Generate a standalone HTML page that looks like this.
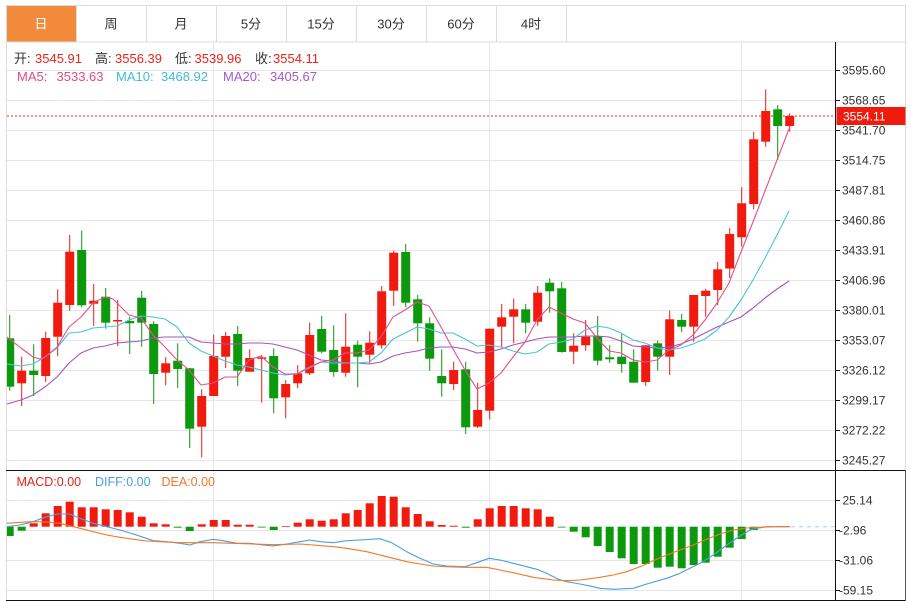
<!DOCTYPE html>
<html><head><meta charset="utf-8">
<style>
html,body{margin:0;padding:0;background:#fff;}
body{width:911px;height:601px;overflow:hidden;}
svg{display:block;font-family:"Liberation Sans","Noto Sans CJK SC",sans-serif;}
.r{fill:#f11a0e;}
.g{fill:#0d990d;}
</style></head><body>
<svg width="911" height="601" viewBox="0 0 911 601" xmlns="http://www.w3.org/2000/svg">
<rect x="0" y="0" width="911" height="601" fill="#fff"/>
<!-- tab bar -->
<rect x="6" y="5" width="70.5" height="37" fill="#f28a3b"/>
<g stroke="#dcdcdc" stroke-width="1">
<line x1="6" y1="5.5" x2="905.5" y2="5.5"/>
<line x1="6" y1="42" x2="905.5" y2="42"/>
<line x1="6.5" y1="5" x2="6.5" y2="600"/>
<line x1="905.5" y1="5" x2="905.5" y2="600"/>
<line x1="76.5" y1="5" x2="76.5" y2="42"/>
<line x1="146.5" y1="5" x2="146.5" y2="42"/>
<line x1="216.5" y1="5" x2="216.5" y2="42"/>
<line x1="286.5" y1="5" x2="286.5" y2="42"/>
<line x1="356.5" y1="5" x2="356.5" y2="42"/>
<line x1="426.5" y1="5" x2="426.5" y2="42"/>
<line x1="496.5" y1="5" x2="496.5" y2="42"/>
<line x1="566.5" y1="5" x2="566.5" y2="42"/>
</g>
<g font-size="13" text-anchor="middle" fill="#333">
<text x="41" y="28.5" fill="#fff">日</text>
<text x="111" y="28.5">周</text>
<text x="181" y="28.5">月</text>
<text x="251" y="28.5">5分</text>
<text x="321" y="28.5">15分</text>
<text x="391" y="28.5">30分</text>
<text x="461" y="28.5">60分</text>
<text x="531" y="28.5">4时</text>
</g>
<!-- grid -->
<g stroke="#e6e6e6" stroke-width="1">
<line x1="7" y1="70.5" x2="836" y2="70.5"/>
<line x1="7" y1="100.5" x2="836" y2="100.5"/>
<line x1="7" y1="130.5" x2="836" y2="130.5"/>
<line x1="7" y1="160.5" x2="836" y2="160.5"/>
<line x1="7" y1="190.5" x2="836" y2="190.5"/>
<line x1="7" y1="220.5" x2="836" y2="220.5"/>
<line x1="7" y1="250.5" x2="836" y2="250.5"/>
<line x1="7" y1="280.5" x2="836" y2="280.5"/>
<line x1="7" y1="310.5" x2="836" y2="310.5"/>
<line x1="7" y1="340.5" x2="836" y2="340.5"/>
<line x1="7" y1="370.5" x2="836" y2="370.5"/>
<line x1="7" y1="400.5" x2="836" y2="400.5"/>
<line x1="7" y1="430.5" x2="836" y2="430.5"/>
<line x1="7" y1="460.5" x2="836" y2="460.5"/>
<line x1="7" y1="500.5" x2="836" y2="500.5"/>
<line x1="7" y1="530.5" x2="836" y2="530.5"/>
<line x1="7" y1="560.5" x2="836" y2="560.5"/>
<line x1="7" y1="590.5" x2="836" y2="590.5"/>
<line x1="213.5" y1="42" x2="213.5" y2="600"/>
<line x1="489.5" y1="42" x2="489.5" y2="600"/>
<line x1="741.5" y1="42" x2="741.5" y2="600"/>
</g>
<!-- header text -->
<g font-size="13">
<text x="14" y="63" fill="#333">开:</text><text x="35" y="63" fill="#e8231b">3545.91</text>
<text x="95" y="63" fill="#333">高:</text><text x="115" y="63" fill="#e8231b">3556.39</text>
<text x="175" y="63" fill="#333">低:</text><text x="194.5" y="63" fill="#e8231b">3539.96</text>
<text x="255" y="63" fill="#333">收:</text><text x="273" y="63" fill="#e8231b">3554.11</text>
<text x="17" y="81" fill="#e24a86">MA5:</text><text x="56.5" y="81" fill="#e24a86">3533.63</text>
<text x="116" y="81" fill="#3fbcd4">MA10:</text><text x="161" y="81" fill="#3fbcd4">3468.92</text>
<text x="223" y="81" fill="#a05ac8">MA20:</text><text x="270" y="81" fill="#a05ac8">3405.67</text>
</g>
<!-- current price dotted line -->
<line x1="7" y1="116" x2="836" y2="116" stroke="#e8231b" stroke-width="1" stroke-dasharray="2,2"/>
<!-- candles -->
<g>
<g class="g" transform="translate(0,0)"><rect x="9.2" y="315" width="1" height="75.7"/><rect x="7" y="338.3" width="7.2" height="48.4"/></g>
<g class="r" transform="translate(12,0)"><rect x="9.2" y="356.7" width="1" height="49.3"/><rect x="5.2" y="370.7" width="9" height="12.6"/></g>
<g class="g" transform="translate(24,0)"><rect x="9.2" y="344.3" width="1" height="51.7"/><rect x="5.2" y="370.7" width="9" height="4.3"/></g>
<g class="r" transform="translate(36,0)"><rect x="9.2" y="331.7" width="1" height="50.3"/><rect x="5.2" y="338" width="9" height="38"/></g>
<g class="r" transform="translate(48,0)"><rect x="9.2" y="289.3" width="1" height="66.7"/><rect x="5.2" y="302.7" width="9" height="34"/></g>
<g class="r" transform="translate(60,0)"><rect x="9.2" y="235" width="1" height="75.7"/><rect x="5.2" y="251.7" width="9" height="53.3"/></g>
<g class="g" transform="translate(72,0)"><rect x="9.2" y="230.7" width="1" height="76.6"/><rect x="5.2" y="250" width="9" height="55.3"/></g>
<g class="r" transform="translate(84,0)"><rect x="9.2" y="284" width="1" height="42"/><rect x="5.2" y="300.7" width="9" height="3"/></g>
<g class="g" transform="translate(96,0)"><rect x="9.2" y="288" width="1" height="40.7"/><rect x="5.2" y="296.7" width="9" height="26"/></g>
<g class="r" transform="translate(108,0)"><rect x="9.2" y="300" width="1" height="46"/><rect x="5.2" y="320" width="9" height="1.5"/></g>
<g class="g" transform="translate(120,0)"><rect x="9.2" y="316.7" width="1" height="37.3"/><rect x="5.2" y="321" width="9" height="2.3"/></g>
<g class="g" transform="translate(132,0)"><rect x="9.2" y="291" width="1" height="55.7"/><rect x="5.2" y="297.7" width="9" height="25"/></g>
<g class="g" transform="translate(144,0)"><rect x="9.2" y="321.3" width="1" height="82.7"/><rect x="5.2" y="324" width="9" height="50"/></g>
<g class="r" transform="translate(156,0)"><rect x="9.2" y="357.3" width="1" height="28"/><rect x="5.2" y="363.3" width="9" height="9.4"/></g>
<g class="g" transform="translate(168,0)"><rect x="9.2" y="343.3" width="1" height="44.7"/><rect x="5.2" y="360.7" width="9" height="8.3"/></g>
<g class="g" transform="translate(180,0)"><rect x="9.2" y="368" width="1" height="80"/><rect x="5.2" y="368.3" width="9" height="60.4"/></g>
<g class="r" transform="translate(192,0)"><rect x="9.2" y="389.3" width="1" height="68"/><rect x="5.2" y="396" width="9" height="30.7"/></g>
<g class="r" transform="translate(204,0)"><rect x="9.2" y="334.7" width="1" height="61.3"/><rect x="5.2" y="356" width="9" height="40"/></g>
<g class="r" transform="translate(216,0)"><rect x="9.2" y="332" width="1" height="36"/><rect x="5.2" y="336" width="9" height="20.7"/></g>
<g class="g" transform="translate(228,0)"><rect x="9.2" y="326" width="1" height="60"/><rect x="5.2" y="334" width="9" height="36.7"/></g>
<g class="r" transform="translate(240,0)"><rect x="9.2" y="349.3" width="1" height="22.4"/><rect x="5.2" y="358" width="9" height="13.7"/></g>
<g class="r" transform="translate(252,0)"><rect x="9.2" y="355" width="1" height="47.7"/><rect x="5.2" y="357.3" width="9" height="1.5"/></g>
<g class="g" transform="translate(264,0)"><rect x="9.2" y="348.3" width="1" height="65"/><rect x="5.2" y="356" width="9" height="42.3"/></g>
<g class="r" transform="translate(276,0)"><rect x="9.2" y="380" width="1" height="38.3"/><rect x="5.2" y="384" width="9" height="13.3"/></g>
<g class="r" transform="translate(288,0)"><rect x="9.2" y="365" width="1" height="23.3"/><rect x="5.2" y="373.3" width="9" height="10"/></g>
<g class="r" transform="translate(300,0)"><rect x="9.2" y="322.7" width="1" height="52.3"/><rect x="5.2" y="335" width="9" height="38.3"/></g>
<g class="g" transform="translate(312,0)"><rect x="9.2" y="316" width="1" height="37.3"/><rect x="5.2" y="329" width="9" height="22.7"/></g>
<g class="g" transform="translate(324,0)"><rect x="9.2" y="325.3" width="1" height="51.4"/><rect x="5.2" y="350" width="9" height="22"/></g>
<g class="r" transform="translate(336,0)"><rect x="9.2" y="313.3" width="1" height="63.4"/><rect x="5.2" y="346.7" width="9" height="26"/></g>
<g class="g" transform="translate(348,0)"><rect x="9.2" y="340.7" width="1" height="46.6"/><rect x="5.2" y="344.7" width="9" height="12"/></g>
<g class="r" transform="translate(360,0)"><rect x="9.2" y="331.3" width="1" height="32"/><rect x="5.2" y="342.7" width="9" height="12"/></g>
<g class="r" transform="translate(372,0)"><rect x="9.2" y="286" width="1" height="62.7"/><rect x="5.2" y="291.3" width="9" height="54"/></g>
<g class="r" transform="translate(384,0)"><rect x="9.2" y="250.7" width="1" height="55.3"/><rect x="5.2" y="252.7" width="9" height="38"/></g>
<g class="g" transform="translate(396,0)"><rect x="9.2" y="244" width="1" height="63.3"/><rect x="5.2" y="252" width="9" height="50.7"/></g>
<g class="g" transform="translate(408,0)"><rect x="9.2" y="295" width="1" height="46.7"/><rect x="5.2" y="299.3" width="9" height="24"/></g>
<g class="g" transform="translate(420,0)"><rect x="9.2" y="317.3" width="1" height="53.4"/><rect x="5.2" y="323.3" width="9" height="35.4"/></g>
<g class="g" transform="translate(432,0)"><rect x="9.2" y="349.3" width="1" height="47.4"/><rect x="5.2" y="376" width="9" height="7.3"/></g>
<g class="r" transform="translate(444,0)"><rect x="9.2" y="361.7" width="1" height="28.3"/><rect x="5.2" y="370" width="9" height="14"/></g>
<g class="g" transform="translate(456,0)"><rect x="9.2" y="361.7" width="1" height="72.3"/><rect x="5.2" y="369.3" width="9" height="58"/></g>
<g class="r" transform="translate(468,0)"><rect x="9.2" y="382.7" width="1" height="45.3"/><rect x="5.2" y="410" width="9" height="16.7"/></g>
<g class="r" transform="translate(480,0)"><rect x="9.2" y="328.7" width="1" height="90.6"/><rect x="5.2" y="328.7" width="9" height="82"/></g>
<g class="r" transform="translate(492,0)"><rect x="9.2" y="304" width="1" height="43.3"/><rect x="5.2" y="317.3" width="9" height="9.4"/></g>
<g class="r" transform="translate(504,0)"><rect x="9.2" y="298.7" width="1" height="44.6"/><rect x="5.2" y="309.3" width="9" height="7.4"/></g>
<g class="g" transform="translate(516,0)"><rect x="9.2" y="304" width="1" height="29.3"/><rect x="5.2" y="309.3" width="9" height="13.4"/></g>
<g class="r" transform="translate(528,0)"><rect x="9.2" y="286" width="1" height="40"/><rect x="5.2" y="292.7" width="9" height="29"/></g>
<g class="g" transform="translate(540,0)"><rect x="9.2" y="278.3" width="1" height="34.4"/><rect x="5.2" y="282.7" width="9" height="8.6"/></g>
<g class="g" transform="translate(552,0)"><rect x="9.2" y="282" width="1" height="70.7"/><rect x="5.2" y="288.3" width="9" height="63.7"/></g>
<g class="r" transform="translate(564,0)"><rect x="9.2" y="333.3" width="1" height="30.7"/><rect x="5.2" y="345.7" width="9" height="6"/></g>
<g class="r" transform="translate(576,0)"><rect x="9.2" y="320" width="1" height="30.7"/><rect x="5.2" y="336.7" width="9" height="8.6"/></g>
<g class="g" transform="translate(588,0)"><rect x="9.2" y="316" width="1" height="49.3"/><rect x="5.2" y="336" width="9" height="24.7"/></g>
<g class="g" transform="translate(600,0)"><rect x="9.2" y="345.3" width="1" height="17.4"/><rect x="5.2" y="357.3" width="9" height="2"/></g>
<g class="g" transform="translate(612,0)"><rect x="9.2" y="334" width="1" height="38.7"/><rect x="5.2" y="356.7" width="9" height="7.3"/></g>
<g class="g" transform="translate(624,0)"><rect x="9.2" y="349.3" width="1" height="33.4"/><rect x="5.2" y="361.7" width="9" height="21"/></g>
<g class="r" transform="translate(636,0)"><rect x="9.2" y="345.3" width="1" height="40.7"/><rect x="5.2" y="345.3" width="9" height="36.7"/></g>
<g class="g" transform="translate(648,0)"><rect x="9.2" y="340.7" width="1" height="30"/><rect x="5.2" y="343.3" width="9" height="13.4"/></g>
<g class="r" transform="translate(660,0)"><rect x="9.2" y="310.7" width="1" height="64.3"/><rect x="5.2" y="319.3" width="9" height="37.4"/></g>
<g class="g" transform="translate(672,0)"><rect x="9.2" y="314" width="1" height="18"/><rect x="5.2" y="320" width="9" height="6.7"/></g>
<g class="r" transform="translate(684,0)"><rect x="9.2" y="295" width="1" height="46.7"/><rect x="5.2" y="295" width="9" height="31.7"/></g>
<g class="r" transform="translate(696,0)"><rect x="9.2" y="288.7" width="1" height="28"/><rect x="5.2" y="290.7" width="9" height="5.3"/></g>
<g class="r" transform="translate(708,0)"><rect x="9.2" y="262" width="1" height="43"/><rect x="5.2" y="269.3" width="9" height="20.7"/></g>
<g class="r" transform="translate(720,0)"><rect x="9.2" y="228.3" width="1" height="49.7"/><rect x="5.2" y="234" width="9" height="34.5"/></g>
<g class="r" transform="translate(732,0)"><rect x="9.2" y="187.3" width="1" height="59.2"/><rect x="5.2" y="203.3" width="9" height="34"/></g>
<g class="r" transform="translate(744,0)"><rect x="9.2" y="131.7" width="1" height="77.6"/><rect x="5.2" y="139.3" width="9" height="64.7"/></g>
<g class="r" transform="translate(756,0)"><rect x="9.2" y="89.3" width="1" height="57.4"/><rect x="5.2" y="111" width="9" height="30.7"/></g>
<g class="g" transform="translate(768,0)"><rect x="9.2" y="105" width="1" height="55"/><rect x="5.2" y="109.3" width="9" height="16.7"/></g>
<g class="r" transform="translate(780,0)"><rect x="9.2" y="113.3" width="1" height="18.4"/><rect x="5.2" y="116" width="9" height="10"/></g>
</g>
<!-- MA lines -->
<g fill="none" stroke-width="1.1" stroke-linejoin="round">
<polyline stroke="#a453c4" points="7,404 21,400 33,395 45,387 57,377 69,363 81,353 93,348 105,346 117,343 129,342 141,341 153,338 165,337 177,337 189,337 201,342 213,343 225,344 237,344 249,343 261,343 273,344 285,347 297,350 309,355 321,360 333,361 345,363 357,363 369,364 381,362 393,356 405,353 417,351 429,348 441,347 453,347 465,349 477,353 489,352 501,349 513,345 525,342 537,339 549,337 561,337 573,337 585,336 597,336 609,337 621,341 633,346 645,347 657,348 669,347 681,344 693,339 705,333 717,327 729,322 741,317 753,308 765,298 777,289 789,281"/>
<polyline stroke="#4cc3d8" points="7,364 21,366 33,364 45,357 57,348 69,333 81,332 93,328 105,327 117,326 129,320 141,316 153,317 165,319 177,327 189,343 201,351 213,356 225,361 237,365 249,367 261,370 273,373 285,375 297,374 309,368 321,362 333,363 345,363 357,363 369,362 381,353 393,339 405,333 417,327 429,329 441,333 453,333 465,339 477,346 489,345 501,347 513,351 525,354 537,352 549,344 561,342 573,339 585,330 597,326 609,328 621,333 633,340 645,343 657,348 669,350 681,348 693,344 705,339 717,330 729,317 741,300 753,280 765,258 777,235 789,211"/>
<polyline stroke="#e5508a" points="7,337 21,348 33,357 40,359 45,357 57,347 69,327 81,317 93,303 105,297 113,299 117,303 129,315 141,318 153,335 165,347 177,360 189,370 201,385 213,383 225,377 237,377 249,360 261,356 273,367 285,374 297,374 309,367 321,362 333,360 345,353 357,353 369,350 381,337 393,317 405,310 417,302 429,306 441,327 453,349 465,370 477,389 489,383 501,373 513,357 525,342 537,320 549,307 561,313 573,319 585,323 597,338 609,351 621,353 633,360 645,362 657,360 669,350 681,345 693,335 705,320 717,303 729,283 741,252 753,222 765,191 777,160 789,129"/>
</g>
<!-- MACD bars -->
<g>
<rect class="g" x="7" y="526.7" width="6.7" height="9.3"/>
<g transform="translate(12,0)"><rect class="g" x="5.7" y="526.7" width="8" height="4"/></g>
<g transform="translate(24,0)"><rect class="r" x="5.7" y="523.3" width="8" height="3.4"/></g>
<g transform="translate(36,0)"><rect class="r" x="5.7" y="513.3" width="8" height="13.4"/></g>
<g transform="translate(48,0)"><rect class="r" x="5.7" y="506" width="8" height="20.7"/></g>
<g transform="translate(60,0)"><rect class="r" x="5.7" y="501.7" width="8" height="25"/></g>
<g transform="translate(72,0)"><rect class="r" x="5.7" y="507.3" width="8" height="19.4"/></g>
<g transform="translate(84,0)"><rect class="r" x="5.7" y="507.3" width="8" height="19.4"/></g>
<g transform="translate(96,0)"><rect class="r" x="5.7" y="509.3" width="8" height="17.4"/></g>
<g transform="translate(108,0)"><rect class="r" x="5.7" y="510" width="8" height="16.7"/></g>
<g transform="translate(120,0)"><rect class="r" x="5.7" y="512.3" width="8" height="14.4"/></g>
<g transform="translate(132,0)"><rect class="r" x="5.7" y="516.7" width="8" height="10"/></g>
<g transform="translate(144,0)"><rect class="r" x="5.7" y="523.3" width="8" height="3.4"/></g>
<g transform="translate(156,0)"><rect class="r" x="5.7" y="524.3" width="8" height="2.4"/></g>
<g transform="translate(168,0)"><rect class="g" x="5.7" y="526.7" width="8" height="1"/></g>
<g transform="translate(180,0)"><rect class="g" x="5.7" y="526.7" width="8" height="4.3"/></g>
<g transform="translate(192,0)"><rect class="r" x="5.7" y="524.3" width="8" height="2.4"/></g>
<g transform="translate(204,0)"><rect class="r" x="5.7" y="520" width="8" height="6.7"/></g>
<g transform="translate(216,0)"><rect class="r" x="5.7" y="520" width="8" height="6.7"/></g>
<g transform="translate(228,0)"><rect class="r" x="5.7" y="524.7" width="8" height="2"/></g>
<g transform="translate(240,0)"><rect class="r" x="5.7" y="524.7" width="8" height="2"/></g>
<g transform="translate(252,0)"><rect class="g" x="5.7" y="526.7" width="8" height="0.8"/></g>
<g transform="translate(264,0)"><rect class="g" x="5.7" y="526.7" width="8" height="3.3"/></g>
<g transform="translate(276,0)"><rect class="r" x="5.7" y="526" width="8" height="0.7"/></g>
<g transform="translate(288,0)"><rect class="r" x="5.7" y="522.7" width="8" height="4"/></g>
<g transform="translate(300,0)"><rect class="r" x="5.7" y="519.3" width="8" height="7.4"/></g>
<g transform="translate(312,0)"><rect class="r" x="5.7" y="520.7" width="8" height="6"/></g>
<g transform="translate(324,0)"><rect class="r" x="5.7" y="519.3" width="8" height="7.4"/></g>
<g transform="translate(336,0)"><rect class="r" x="5.7" y="513.3" width="8" height="13.4"/></g>
<g transform="translate(348,0)"><rect class="r" x="5.7" y="510" width="8" height="16.7"/></g>
<g transform="translate(360,0)"><rect class="r" x="5.7" y="503.3" width="8" height="23.4"/></g>
<g transform="translate(372,0)"><rect class="r" x="5.7" y="496" width="8" height="30.7"/></g>
<g transform="translate(384,0)"><rect class="r" x="5.7" y="496.7" width="8" height="30"/></g>
<g transform="translate(396,0)"><rect class="r" x="5.7" y="507.3" width="8" height="19.4"/></g>
<g transform="translate(408,0)"><rect class="r" x="5.7" y="514" width="8" height="12.7"/></g>
<g transform="translate(420,0)"><rect class="r" x="5.7" y="521.3" width="8" height="5.4"/></g>
<g transform="translate(432,0)"><rect class="r" x="5.7" y="525" width="8" height="1.7"/></g>
<g transform="translate(444,0)"><rect class="r" x="5.7" y="525.7" width="8" height="1"/></g>
<g transform="translate(456,0)"><rect class="g" x="5.7" y="526.7" width="8" height="1"/></g>
<g transform="translate(468,0)"><rect class="r" x="5.7" y="519.3" width="8" height="7.4"/></g>
<g transform="translate(480,0)"><rect class="r" x="5.7" y="508.3" width="8" height="18.4"/></g>
<g transform="translate(492,0)"><rect class="r" x="5.7" y="506" width="8" height="20.7"/></g>
<g transform="translate(504,0)"><rect class="r" x="5.7" y="506" width="8" height="20.7"/></g>
<g transform="translate(516,0)"><rect class="r" x="5.7" y="508.3" width="8" height="18.4"/></g>
<g transform="translate(528,0)"><rect class="r" x="5.7" y="509.3" width="8" height="17.4"/></g>
<g transform="translate(540,0)"><rect class="r" x="5.7" y="516.7" width="8" height="10"/></g>
<g transform="translate(552,0)"><rect class="g" x="5.7" y="526.7" width="8" height="0.8"/></g>
<g transform="translate(564,0)"><rect class="g" x="5.7" y="526.7" width="8" height="5"/></g>
<g transform="translate(576,0)"><rect class="g" x="5.7" y="526.7" width="8" height="10.6"/></g>
<g transform="translate(588,0)"><rect class="g" x="5.7" y="526.7" width="8" height="19.3"/></g>
<g transform="translate(600,0)"><rect class="g" x="5.7" y="526.7" width="8" height="25.3"/></g>
<g transform="translate(612,0)"><rect class="g" x="5.7" y="526.7" width="8" height="31.6"/></g>
<g transform="translate(624,0)"><rect class="g" x="5.7" y="526.7" width="8" height="37.3"/></g>
<g transform="translate(636,0)"><rect class="g" x="5.7" y="526.7" width="8" height="37.3"/></g>
<g transform="translate(648,0)"><rect class="g" x="5.7" y="526.7" width="8" height="41"/></g>
<g transform="translate(660,0)"><rect class="g" x="5.7" y="526.7" width="8" height="40"/></g>
<g transform="translate(672,0)"><rect class="g" x="5.7" y="526.7" width="8" height="41.6"/></g>
<g transform="translate(684,0)"><rect class="g" x="5.7" y="526.7" width="8" height="38.3"/></g>
<g transform="translate(696,0)"><rect class="g" x="5.7" y="526.7" width="8" height="36"/></g>
<g transform="translate(708,0)"><rect class="g" x="5.7" y="526.7" width="8" height="30"/></g>
<g transform="translate(720,0)"><rect class="g" x="5.7" y="526.7" width="8" height="21"/></g>
<g transform="translate(732,0)"><rect class="g" x="5.7" y="526.7" width="8" height="12.3"/></g>
<g transform="translate(744,0)"><rect class="g" x="5.7" y="526.7" width="8" height="3.3"/></g>
<g transform="translate(756,0)"><rect class="g" x="5.7" y="526.7" width="8" height="0.8"/></g>
</g>
<!-- MACD lines -->
<g fill="none" stroke-width="1.1" stroke-linejoin="round">
<polyline stroke="#4a9fe0" points="7,526.7 20,525 33,521.7 46.7,516.7 57.3,514 69.3,514 80,518.3 93.3,523.3 106.7,526.7 120,530 133.3,534 143.3,537.3 153.3,540.7 166.7,541.7 180,543.3 190,545 200,541.7 213.3,539.3 223.3,540.7 236.7,543.3 250,543.3 263.3,545 273.3,546 286.7,544 300,541.7 310,540 320,541.7 333.3,542.7 346.7,540.7 360,540 380,538.7 391.7,542.7 406.7,551.7 420,558.3 433.3,564 446.7,566 465,566.7 476.7,562.7 489,558.3 500,560 513.3,563.3 526.7,566.7 536.7,569.3 546.7,573.3 558.3,579.3 566.7,581.7 580,584 593.3,586.7 600,588.3 613.3,589.3 633.3,588.3 646.7,584 666.7,578.3 680,573.3 700,563.3 713.3,555 726.7,545 740,536 750,530 756.7,528.3 766.7,526.7 790,526.7"/>
<polyline stroke="#f07828" points="7,523.3 20,522.3 33.3,521.7 46.7,522 60,523.3 69.3,525.7 80,528.3 93.3,531.7 106.7,535 120,537.3 133.3,539.3 146.7,541 160,541.7 180,542.7 200,542.7 213.3,542.7 233.3,543.3 253.3,544 273.3,544.7 300,544 313.3,545 333.3,546.7 346.7,548.3 366.7,551.7 380,555 393.3,558.3 406.7,561.7 420,564 433.3,566 446.7,566.7 465,567.3 486.7,567.3 500,570 513.3,572.7 533.3,577.3 553.3,580 566.7,580.7 580,580 593.3,578.3 600,577.3 613.3,575 626.7,571.7 640,566.7 653.3,560.7 666.7,555 680,550 693.3,545 706.7,539.3 720,534 733.3,530 746.7,528 760,527.3 773.3,526.7 789.3,526.7"/>
</g>
<line x1="791" y1="526.7" x2="835" y2="526.7" stroke="#a8d4ee" stroke-width="1" stroke-dasharray="4,4"/>
<!-- MACD text -->
<g font-size="12.5">
<text x="16.5" y="486" fill="#e8231b">MACD:0.00</text>
<text x="95" y="486" fill="#4a9fe0">DIFF:0.00</text>
<text x="161.5" y="486" fill="#f07828">DEA:0.00</text>
</g>
<!-- frame / axis -->
<g stroke="#111" stroke-width="1">
<line x1="835.5" y1="42" x2="835.5" y2="600"/>
<line x1="6" y1="470.5" x2="906" y2="470.5"/>
<line x1="6" y1="600.5" x2="906" y2="600.5"/>
<line x1="836" y1="70.5" x2="840" y2="70.5"/>
<line x1="836" y1="100.5" x2="840" y2="100.5"/>
<line x1="836" y1="130.5" x2="840" y2="130.5"/>
<line x1="836" y1="160.5" x2="840" y2="160.5"/>
<line x1="836" y1="190.5" x2="840" y2="190.5"/>
<line x1="836" y1="220.5" x2="840" y2="220.5"/>
<line x1="836" y1="250.5" x2="840" y2="250.5"/>
<line x1="836" y1="280.5" x2="840" y2="280.5"/>
<line x1="836" y1="310.5" x2="840" y2="310.5"/>
<line x1="836" y1="340.5" x2="840" y2="340.5"/>
<line x1="836" y1="370.5" x2="840" y2="370.5"/>
<line x1="836" y1="400.5" x2="840" y2="400.5"/>
<line x1="836" y1="430.5" x2="840" y2="430.5"/>
<line x1="836" y1="460.5" x2="840" y2="460.5"/>
<line x1="836" y1="500.5" x2="840" y2="500.5"/>
<line x1="836" y1="530.5" x2="840" y2="530.5"/>
<line x1="836" y1="560.5" x2="840" y2="560.5"/>
<line x1="836" y1="590.5" x2="840" y2="590.5"/>
</g>
<line x1="905.5" y1="470" x2="905.5" y2="601" stroke="#555" stroke-width="1"/>
<g font-size="12" fill="#333">
<text x="842" y="74.5">3595.60</text>
<text x="842" y="104.5">3568.65</text>
<text x="842" y="134.5">3541.70</text>
<text x="842" y="164.5">3514.75</text>
<text x="842" y="194.5">3487.81</text>
<text x="842" y="224.5">3460.86</text>
<text x="842" y="254.5">3433.91</text>
<text x="842" y="284.5">3406.96</text>
<text x="842" y="314.5">3380.01</text>
<text x="842" y="344.5">3353.07</text>
<text x="842" y="374.5">3326.12</text>
<text x="842" y="404.5">3299.17</text>
<text x="842" y="434.5">3272.22</text>
<text x="842" y="464.5">3245.27</text>
<text x="842.5" y="504.5">25.14</text>
<text x="839" y="534.5">-2.96</text>
<text x="839" y="564.5">-31.06</text>
<text x="839" y="594.5">-59.15</text>
</g>
<!-- price label -->
<rect x="836.5" y="107" width="69" height="18" fill="#ee1b0e"/>
<text x="843" y="120.5" font-size="12" fill="#fff">3554.11</text>
</svg>
</body></html>
